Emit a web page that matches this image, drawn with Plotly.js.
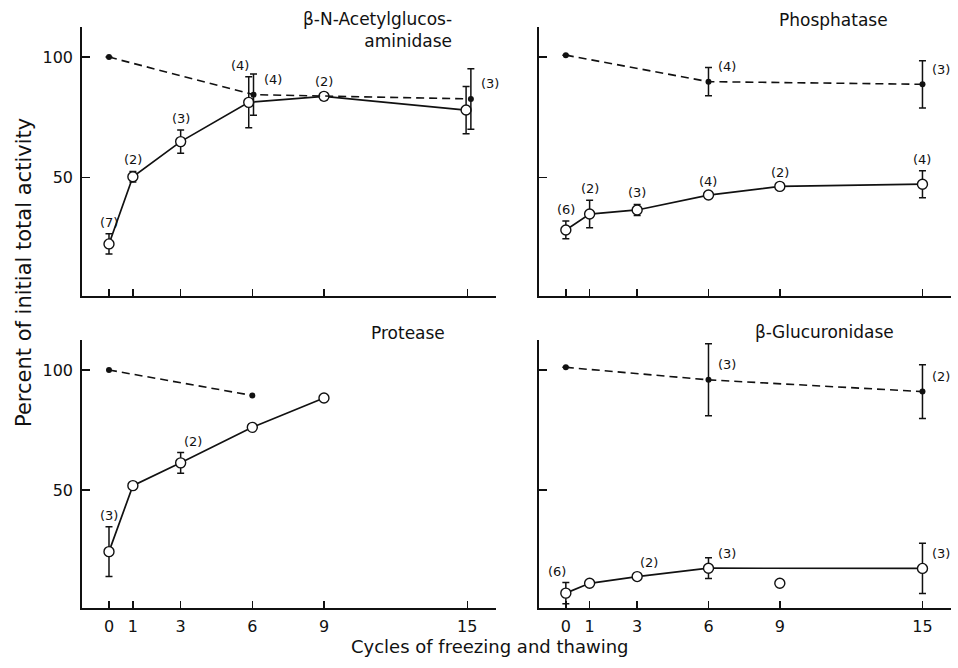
<!DOCTYPE html>
<html>
<head>
<meta charset="utf-8">
<script src="https://cdn.plot.ly/plotly-3.0.1.min.js"></script>
<style>html,body{margin:0;padding:0;background:#fff;}#chart{width:958px;height:668px;}</style>
</head>
<body>
<div id="chart"></div>
<script>
// ---------- data ----------
const cycleTicks = [0, 1, 3, 6, 9, 15];
const cycleTickText = ['0', '1', '3', '6', '9', '15'];

// beta-N-Acetylglucosaminidase
const acetSolidX = [0, 1, 3, 5.85, 9, 14.95];
const acetSolidY = [22.4, 50.3, 64.9, 81.2, 83.7, 78.0];
const acetSolidErr = [4.2, 2.2, 4.8, 10.6, 1.5, 9.8];
const acetSolidN = [7, 2, 3, 4, 2, null];
const acetDashX = [0, 6.05, 15.15];
const acetDashY = [100, 84.4, 82.6];
const acetDashErr = [0, 8.6, 12.6];
const acetDashN = [null, 4, 3];

// Phosphatase
const phosSolidX = [0, 1, 3, 6, 9, 15];
const phosSolidY = [28.2, 34.8, 36.5, 42.7, 46.3, 47.2];
const phosSolidErr = [3.7, 5.7, 2.3, 1.0, 1.0, 5.6];
const phosSolidN = [6, 2, 3, 4, 2, 4];
const phosDashX = [0, 6, 15];
const phosDashY = [100.8, 89.8, 88.7];
const phosDashErr = [0, 5.9, 9.8];
const phosDashN = [null, 4, 3];

// Protease
const protSolidX = [0, 1, 3, 6, 9];
const protSolidY = [24.3, 51.8, 61.3, 76.1, 88.3];
const protSolidErr = [10.4, 0, 4.3, 0, 0];
const protSolidN = [3, null, 2, null, null];
const protDashX = [0, 6];
const protDashY = [100, 89.4];

// beta-Glucuronidase
const glucSolidX = [0, 1, 3, 6, 15];
const glucSolidY = [7.0, 11.1, 13.9, 17.4, 17.3];
const glucSolidErr = [4.4, 0, 1.2, 4.3, 10.5];
const glucSolidN = [6, null, 2, 3, 3];
const glucExtraX = [9];
const glucExtraY = [11.1];
const glucDashX = [0, 6, 15];
const glucDashY = [101.1, 95.9, 91.0];
const glucDashErr = [0, 15, 11.2];
const glucDashN = [null, 3, 2];

// label placement (style only): a = above, al = above-left, ar = above-right, r = right
const acetSolidPos = ['a', 'a', 'a', 'al', 'a', null];
const acetDashPos = [null, 'r', 'r'];
const phosSolidPos = ['a', 'a', 'a', 'a', 'a', 'a'];
const phosDashPos = [null, 'r', 'r'];
const protSolidPos = ['a', null, 'ar', null, null];
const glucSolidPos = ['al', null, 'ar', 'r', 'r'];
const glucDashPos = [null, 'r', 'r'];

// ---------- styling helpers ----------
const FONT = 'DejaVu Sans, Liberation Sans, sans-serif';
const BLACK = '#111';

function solidTrace(x, y, err, ax, showLine) {
  return {
    x: x, y: y, xaxis: 'x' + ax, yaxis: 'y' + ax,
    type: 'scatter', mode: showLine === false ? 'markers' : 'lines+markers',
    line: {color: BLACK, width: 1.7},
    marker: {symbol: 'circle', size: 10, color: '#fff', line: {color: BLACK, width: 1.4}},
    error_y: err ? {type: 'data', array: err, visible: true, color: BLACK, thickness: 1.5, width: 3.5} : {visible: false},
    showlegend: false, hoverinfo: 'skip', cliponaxis: false
  };
}
function dashTrace(x, y, err, ax) {
  return {
    x: x, y: y, xaxis: 'x' + ax, yaxis: 'y' + ax,
    type: 'scatter', mode: 'lines+markers',
    line: {color: BLACK, width: 1.6, dash: '8px,5px'},
    marker: {symbol: 'circle', size: 6, color: BLACK},
    error_y: err ? {type: 'data', array: err, visible: true, color: BLACK, thickness: 1.5, width: 3.5} : {visible: false},
    showlegend: false, hoverinfo: 'skip', cliponaxis: false
  };
}
function countLabels(x, y, err, n, pos, ax) {
  const out = [];
  for (let i = 0; i < x.length; i++) {
    if (n[i] == null || pos[i] == null) continue;
    const e = err ? err[i] : 0;
    const a = {
      xref: 'x' + ax, yref: 'y' + ax, text: '(' + n[i] + ')', showarrow: false,
      font: {family: FONT, size: 13, color: BLACK}, x: x[i]
    };
    if (pos[i] === 'r') {
      a.y = y[i]; a.xanchor = 'left'; a.yanchor = 'middle'; a.xshift = 8; a.yshift = 15;
    } else {
      a.y = y[i] + e; a.xanchor = 'center'; a.yanchor = 'bottom'; a.yshift = 2;
      if (pos[i] === 'al') a.xshift = -9;
      if (pos[i] === 'ar') a.xshift = 12;
    }
    out.push(a);
  }
  return out;
}

const traces = [
  solidTrace(acetSolidX, acetSolidY, acetSolidErr, ''),
  dashTrace(acetDashX, acetDashY, acetDashErr, ''),
  solidTrace(phosSolidX, phosSolidY, phosSolidErr, '2'),
  dashTrace(phosDashX, phosDashY, phosDashErr, '2'),
  solidTrace(protSolidX, protSolidY, protSolidErr, '3'),
  dashTrace(protDashX, protDashY, null, '3'),
  solidTrace(glucSolidX, glucSolidY, glucSolidErr, '4'),
  solidTrace(glucExtraX, glucExtraY, null, '4', false),
  dashTrace(glucDashX, glucDashY, glucDashErr, '4')
];

function xAxis(domain, anchor, labels) {
  return {
    domain: domain, anchor: anchor, range: [-1.13, 16.2],
    tickvals: cycleTicks, ticktext: cycleTickText, showticklabels: labels,
    ticks: 'inside', ticklen: 7, tickwidth: 1.4, tickcolor: BLACK,
    showline: true, linecolor: BLACK, linewidth: 1.8,
    showgrid: false, zeroline: false, fixedrange: true,
    tickfont: {family: FONT, size: 16, color: BLACK}, ticklabelstandoff: 3
  };
}
function yAxis(domain, anchor, labels) {
  return {
    domain: domain, anchor: anchor, range: [0.8, 112.5],
    tickvals: [50, 100], showticklabels: labels,
    ticks: 'inside', ticklen: 8, tickwidth: 1.4, tickcolor: BLACK,
    showline: true, linecolor: BLACK, linewidth: 1.8,
    showgrid: false, zeroline: false, fixedrange: true,
    tickfont: {family: FONT, size: 16, color: BLACK}, ticklabelstandoff: 4
  };
}

const LX = [0.0856, 0.5177], RX = [0.5626, 0.9927];
const TY = [0.557, 0.9596], BY = [0.0898, 0.491];

const annotations = [].concat(
  countLabels(acetSolidX, acetSolidY, acetSolidErr, acetSolidN, acetSolidPos, ''),
  countLabels(acetDashX, acetDashY, acetDashErr, acetDashN, acetDashPos, ''),
  countLabels(phosSolidX, phosSolidY, phosSolidErr, phosSolidN, phosSolidPos, '2'),
  countLabels(phosDashX, phosDashY, phosDashErr, phosDashN, phosDashPos, '2'),
  countLabels(protSolidX, protSolidY, protSolidErr, protSolidN, protSolidPos, '3'),
  countLabels(glucSolidX, glucSolidY, glucSolidErr, glucSolidN, glucSolidPos, '4'),
  countLabels(glucDashX, glucDashY, glucDashErr, glucDashN, glucDashPos, '4'),
  [
    {xref: 'paper', yref: 'paper', x: 454 / 958, y: 1 - 7 / 668, xanchor: 'right', yanchor: 'top', align: 'right',
     text: '\u03B2-N-Acetylglucos-<br>aminidase', showarrow: false, font: {family: FONT, size: 17, color: BLACK}},
    {xref: 'paper', yref: 'paper', x: 833 / 958, y: 1 - 20 / 668, xanchor: 'center', yanchor: 'middle',
     text: 'Phosphatase', showarrow: false, font: {family: FONT, size: 17, color: BLACK}},
    {xref: 'paper', yref: 'paper', x: 408 / 958, y: 1 - 333 / 668, xanchor: 'center', yanchor: 'middle',
     text: 'Protease', showarrow: false, font: {family: FONT, size: 17, color: BLACK}},
    {xref: 'paper', yref: 'paper', x: 824 / 958, y: 1 - 332 / 668, xanchor: 'center', yanchor: 'middle',
     text: '\u03B2-Glucuronidase', showarrow: false, font: {family: FONT, size: 17, color: BLACK}},
    {xref: 'paper', yref: 'paper', x: 24 / 958, y: 1 - 273 / 668, xanchor: 'center', yanchor: 'middle', textangle: -90,
     text: 'Percent of initial total activity', showarrow: false, font: {family: FONT, size: 21, color: BLACK}},
    {xref: 'paper', yref: 'paper', x: 490 / 958, y: 1 - 646 / 668, xanchor: 'center', yanchor: 'middle',
     text: 'Cycles of freezing and thawing', showarrow: false, font: {family: FONT, size: 18, color: BLACK}}
  ]
);

const layout = {
  width: 958, height: 668,
  margin: {l: 0, r: 0, t: 0, b: 0},
  paper_bgcolor: '#fff', plot_bgcolor: '#fff',
  showlegend: false,
  xaxis: xAxis(LX, 'y', false), yaxis: yAxis(TY, 'x', true),
  xaxis2: xAxis(RX, 'y2', false), yaxis2: yAxis(TY, 'x2', false),
  xaxis3: xAxis(LX, 'y3', true), yaxis3: yAxis(BY, 'x3', true),
  xaxis4: xAxis(RX, 'y4', true), yaxis4: yAxis(BY, 'x4', false),
  annotations: annotations,
  font: {family: FONT, color: BLACK}
};

Plotly.newPlot('chart', traces, layout, {displayModeBar: false, staticPlot: true});
</script>
</body>
</html>
